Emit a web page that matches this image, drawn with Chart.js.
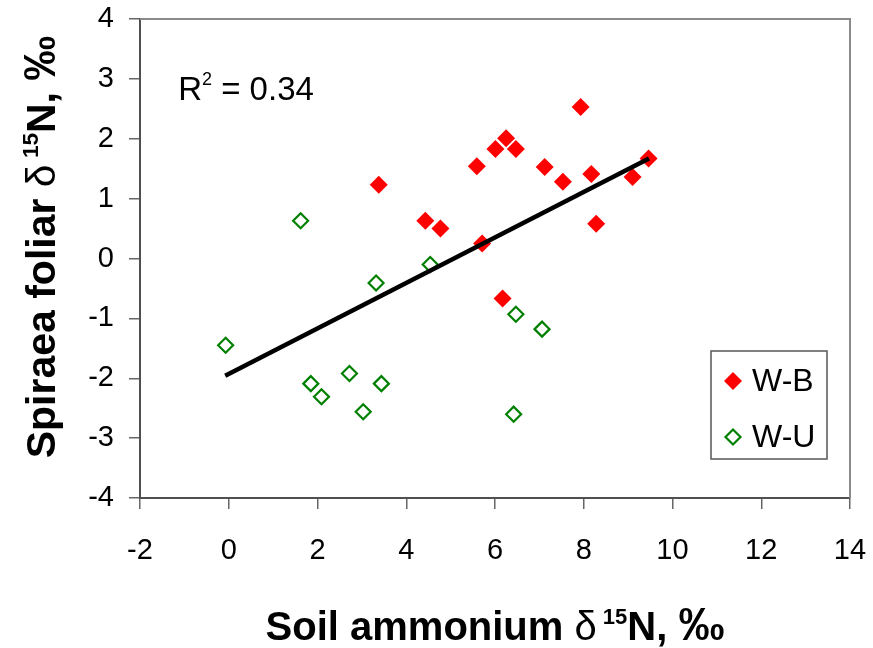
<!DOCTYPE html>
<html>
<head>
<meta charset="utf-8">
<title>Spiraea foliar vs soil ammonium δ15N</title>
<script src="https://cdn.jsdelivr.net/npm/chart.js@4.4.1/dist/chart.umd.min.js"></script>
<style>
  html, body { margin: 0; padding: 0; background: #fff; }
  #wrap { width: 873px; height: 648px; }
</style>
</head>
<body>
<div id="wrap"><canvas id="c" width="873" height="648"></canvas></div>
<script>
// W-B sites: soil ammonium δ15N (x) and Spiraea foliar δ15N (y), ‰
const wbSoil   = [3.38, 4.43, 4.77, 5.59, 6.01, 6.25, 6.47, 5.71, 7.93, 7.12, 7.53, 8.17, 9.10, 9.46, 8.28, 6.17];
const wbFoliar = [1.23, 0.63, 0.50, 1.54, 1.83, 2.01, 1.83, 0.25, 2.53, 1.53, 1.28, 1.41, 1.36, 1.67, 0.58, -0.67];

// W-U sites
const wuSoil   = [1.62, 4.54, 3.32, -0.07, 6.47, 7.06, 1.85, 2.09, 2.72, 3.44, 3.03, 6.42];
const wuFoliar = [0.63, -0.10, -0.41, -1.45, -0.93, -1.18, -2.09, -2.31, -1.92, -2.09, -2.56, -2.60];

// Linear fit across both groups (end points of the fitted segment)
const fitSoil   = [-0.08, 9.47];
const fitFoliar = [-1.96, 1.67];
const fitR2     = '0.34';

// Axis tick labels
const xTickLabels = ['-2', '0', '2', '4', '6', '8', '10', '12', '14'];
const yTickLabels = ['-4', '-3', '-2', '-1', '0', '1', '2', '3', '4'];

const seriesNames = ['W-B', 'W-U'];

const FONT = '"Liberation Sans", Arial, Helvetica, sans-serif';

const toPoints = (xs, ys) => xs.map((v, i) => ({ x: v, y: ys[i] }));

function diamond(ctx, cx, cy, r, fill, stroke, lw) {
  ctx.beginPath();
  ctx.moveTo(cx - r, cy);
  ctx.lineTo(cx, cy - r);
  ctx.lineTo(cx + r, cy);
  ctx.lineTo(cx, cy + r);
  ctx.closePath();
  if (fill) { ctx.fillStyle = fill; ctx.fill(); }
  if (stroke) { ctx.strokeStyle = stroke; ctx.lineWidth = lw; ctx.stroke(); }
}

// Text made of runs with their own font and baseline shift (for superscripts)
function richWidth(ctx, runs) {
  return runs.reduce((w, r) => { ctx.font = r.font; return w + ctx.measureText(r.text).width; }, 0);
}
function drawRich(ctx, runs, x, y) {
  let cx = x;
  runs.forEach(r => {
    ctx.font = r.font;
    ctx.fillText(r.text, cx, y + (r.dy || 0));
    cx += ctx.measureText(r.text).width;
  });
}

const xTitleRuns = [
  { text: 'Soil ammonium ', font: 'bold 40px ' + FONT },
  { text: 'δ', font: '40px ' + FONT },
  { text: ' 15', font: 'bold 22px ' + FONT, dy: -16.5 },
  { text: 'N, ', font: 'bold 40px ' + FONT },
  { text: '‰', font: 'bold 46px ' + FONT }
];
const yTitleRuns = [
  { text: 'Spiraea foliar ', font: 'bold 41px ' + FONT },
  { text: 'δ', font: '41px ' + FONT },
  { text: ' 15', font: 'bold 22.5px ' + FONT, dy: -17 },
  { text: 'N, ', font: 'bold 41px ' + FONT },
  { text: '‰', font: 'bold 45px ' + FONT }
];
const r2Runs = [
  { text: 'R', font: '33px ' + FONT },
  { text: '2', font: '18px ' + FONT, dy: -15 },
  { text: ' = ' + fitR2, font: '33px ' + FONT }
];

// Axis titles, plot frame (top/right), R² annotation and boxed legend
const decor = {
  id: 'decor',
  afterDraw(chart) {
    const { ctx, chartArea: a, scales: { x, y } } = chart;
    ctx.save();
    ctx.fillStyle = '#000';
    ctx.textAlign = 'left';
    ctx.textBaseline = 'alphabetic';

    // frame
    ctx.strokeStyle = '#8a8a8a';
    ctx.lineWidth = 2;
    ctx.beginPath();
    ctx.moveTo(a.left, a.top);
    ctx.lineTo(a.right, a.top);
    ctx.lineTo(a.right, a.bottom);
    ctx.stroke();

    // x-axis title, centred under the plot
    const xw = richWidth(ctx, xTitleRuns);
    drawRich(ctx, xTitleRuns, (a.left + a.right) / 2 - xw / 2, chart.height - 8);

    // y-axis title, rotated
    const yw = richWidth(ctx, yTitleRuns);
    ctx.save();
    ctx.translate(55, a.top + 228);
    ctx.rotate(-Math.PI / 2);
    drawRich(ctx, yTitleRuns, -yw / 2, 0);
    ctx.restore();

    // R² annotation
    drawRich(ctx, r2Runs, x.getPixelForValue(-1.14), y.getPixelForValue(2.65));

    // legend box
    const bx = a.right - 139, by = a.top + 332, bw = 116, bh = 108;
    ctx.fillStyle = '#fff';
    ctx.fillRect(bx, by, bw, bh);
    ctx.strokeStyle = '#555';
    ctx.lineWidth = 1.5;
    ctx.strokeRect(bx, by, bw, bh);

    ctx.font = '32px ' + FONT;
    ctx.textBaseline = 'middle';
    const rows = [by + 30, by + 86];
    chart.data.datasets.filter(d => seriesNames.includes(d.label)).forEach((d, i) => {
      const cy = rows[i];
      if (d.pointBackgroundColor === '#ffffff') {
        diamond(ctx, bx + 22, cy, d.pointRadius, '#fff', d.pointBorderColor, d.pointBorderWidth);
      } else {
        diamond(ctx, bx + 22, cy, d.pointRadius, d.pointBackgroundColor, null, 0);
      }
      ctx.fillStyle = '#000';
      ctx.fillText(d.label, bx + 41, cy + 1);
    });
    ctx.restore();
  }
};

// keep the plot box fixed: no extra room for overhanging tick labels
const noOverhang = (s) => { s.paddingLeft = 0; s.paddingRight = 0; s.paddingTop = 0; s.paddingBottom = 0; };

new Chart(document.getElementById('c'), {
  type: 'scatter',
  data: {
    datasets: [
      {
        type: 'line',
        label: 'fit',
        data: toPoints(fitSoil, fitFoliar),
        borderColor: '#000',
        borderWidth: 4.5,
        pointRadius: 0,
        fill: false,
        order: 0
      },
      {
        label: seriesNames[0],
        data: toPoints(wbSoil, wbFoliar),
        pointStyle: 'rectRot',
        pointRadius: 9,
        pointHoverRadius: 9,
        pointBackgroundColor: '#ff0000',
        pointBorderColor: '#ff0000',
        pointBorderWidth: 0,
        order: 2
      },
      {
        label: seriesNames[1],
        data: toPoints(wuSoil, wuFoliar),
        pointStyle: 'rectRot',
        pointRadius: 7.5,
        pointHoverRadius: 7.5,
        pointBackgroundColor: '#ffffff',
        pointBorderColor: '#008000',
        pointBorderWidth: 2.2,
        order: 1
      }
    ]
  },
  options: {
    responsive: false,
    animation: false,
    devicePixelRatio: 1,
    layout: { padding: { left: 0, right: 23, top: 19, bottom: 0 } },
    plugins: {
      legend: { display: false },
      tooltip: { enabled: false }
    },
    scales: {
      x: {
        type: 'linear',
        min: -2, max: 14,
        ticks: {
          stepSize: 2,
          color: '#000',
          font: { family: FONT, size: 29 },
          padding: 25,
          callback: (v) => xTickLabels[Math.round((v + 2) / 2)]
        },
        grid: { display: true, drawOnChartArea: false, drawTicks: true, tickLength: 11, color: '#666', lineWidth: 1.5 },
        border: { display: true, color: '#505050', width: 2 },
        afterFit: (s) => { s.height = 150; noOverhang(s); }
      },
      y: {
        type: 'linear',
        min: -4, max: 4,
        ticks: {
          stepSize: 1,
          color: '#000',
          font: { family: FONT, size: 29 },
          padding: 15,
          callback: (v) => yTickLabels[Math.round(v + 4)]
        },
        grid: { display: true, drawOnChartArea: false, drawTicks: true, tickLength: 11, color: '#666', lineWidth: 1.5 },
        border: { display: true, color: '#505050', width: 2 },
        afterFit: (s) => { s.width = 140; noOverhang(s); }
      }
    }
  },
  plugins: [decor]
});
</script>
</body>
</html>
